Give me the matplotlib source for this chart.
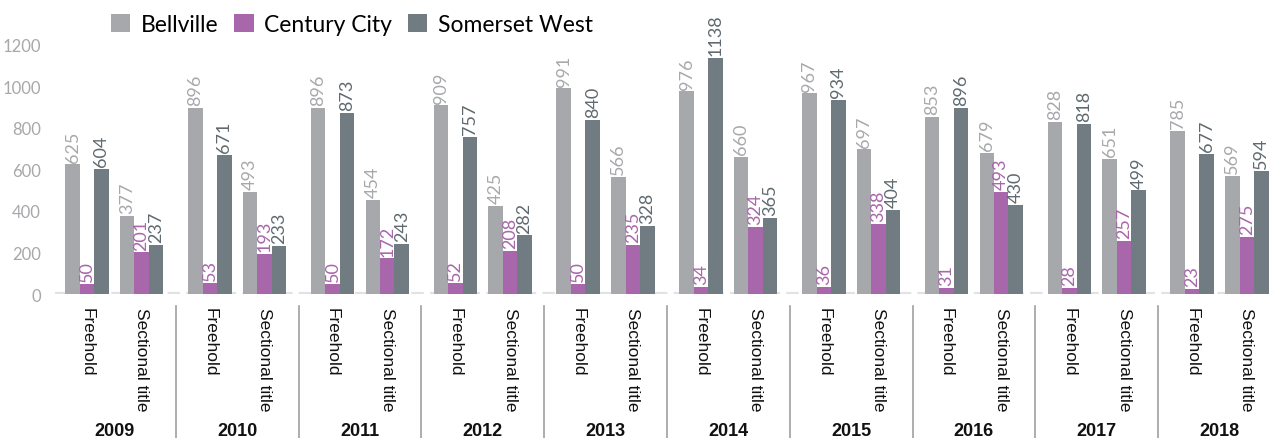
import matplotlib
matplotlib.use("Agg")
import matplotlib.pyplot as plt
import matplotlib.transforms as mtransforms
import numpy as np

years = ["2009", "2010", "2011", "2012", "2013", "2014", "2015", "2016", "2017", "2018"]
tenures = ["Freehold", "Sectional title"]
series_names = ["Bellville", "Century City", "Somerset West"]

bellville_freehold = [625, 896, 896, 909, 991, 976, 967, 853, 828, 785]
bellville_sectional = [377, 493, 454, 425, 566, 660, 697, 679, 651, 569]
century_freehold = [50, 53, 50, 52, 50, 34, 36, 31, 28, 23]
century_sectional = [201, 193, 172, 208, 235, 324, 338, 493, 257, 275]
somerset_freehold = [604, 671, 873, 757, 840, 1138, 934, 896, 818, 677]
somerset_sectional = [237, 233, 243, 282, 328, 365, 404, 430, 499, 594]

bar_colors = ["#A7A8AB", "#A867AA", "#717C82"]
label_colors = ["#A7A8AB", "#A867AA", "#5F6A70"]

W, H = 1274, 439
fig = plt.figure(figsize=(W / 100, H / 100), dpi=100)
ax_left, ax_right = 55, 1274
ax_bottom, ax_top = 295, 46
ax = fig.add_axes([ax_left / W, (H - ax_bottom) / H,
                   (ax_right - ax_left) / W, (ax_bottom - ax_top) / H])

d = 0.445
bw = 0.118
freehold_pos = np.arange(len(years), dtype=float)
sectional_pos = freehold_pos + d

data = [
    (bellville_freehold, bellville_sectional),
    (century_freehold, century_sectional),
    (somerset_freehold, somerset_sectional),
]

handles = []
for k, (fh, st) in enumerate(data):
    off = (k - 1) * bw
    xs = np.concatenate([freehold_pos + off, sectional_pos + off])
    vals = np.concatenate([fh, st])
    bars = ax.bar(xs, vals, width=bw, color=bar_colors[k], zorder=3,
                  label=series_names[k], linewidth=0)
    handles.append(bars)
    for x, v in zip(xs, vals):
        ax.annotate(str(v), (x, v), xytext=(0, 2), textcoords="offset points",
                    rotation=90, ha="center", va="bottom", fontsize=13,
                    family="Lato", color=label_colors[k], clip_on=False,
                    zorder=4)

# dashed baseline
ax.axhline(0, color="#E2E2E2", linewidth=3, linestyle=(0, (3, 1.5)), zorder=1)

ax.set_ylim(0, 1200)
ax.set_xlim((55 - 87) / 122.8, (1274 - 87) / 122.8)
ax.set_yticks(np.arange(0, 1201, 200))
ax.tick_params(axis="y", length=0, pad=10, labelsize=12, labelcolor="#A7A8AB")
for t in ax.get_yticklabels():
    t.set_family("Lato")

cat_pos = np.concatenate([freehold_pos, sectional_pos])
cat_lab = [tenures[0]] * len(years) + [tenures[1]] * len(years)
ax.set_xticks(cat_pos)
ax.set_xticklabels(cat_lab, rotation=-90, fontsize=12.5, family="Liberation Sans",
                   color="#111111")
ax.tick_params(axis="x", length=0, pad=9)

for s in ax.spines.values():
    s.set_visible(False)

# year labels & separators (below axes, in pixel offsets)
trans = mtransforms.blended_transform_factory(ax.transData, ax.transAxes)
ax_h = ax_bottom - ax_top
for i, y in enumerate(years):
    ax.text(i + d / 2, -(431 - ax_bottom) / ax_h, y, transform=trans,
            ha="center", va="center", fontsize=13, fontweight="bold",
            family="Liberation Sans", color="#111111", clip_on=False)
for i in range(len(years) - 1):
    xsep = i + d + (1 - d) / 2
    ax.plot([xsep, xsep], [-(307 - ax_bottom) / ax_h, -(H - ax_bottom) / ax_h],
            transform=trans, color="#A0A0A0", linewidth=1.2, clip_on=False)

leg = fig.legend(handles=handles, labels=series_names, loc="upper left",
                 bbox_to_anchor=(90 / W, 1.0 + 6 / H), ncol=3, frameon=False,
                 prop={"family": "Lato", "size": 16.5}, handlelength=0.85,
                 handleheight=0.85, handletextpad=0.45, columnspacing=0.7)

fig.savefig("out.png", dpi=100)
